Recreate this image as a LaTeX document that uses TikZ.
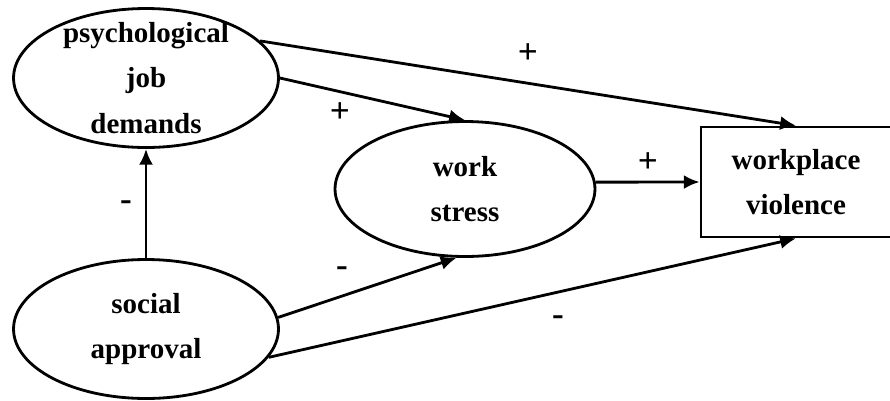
\documentclass[tikz,border=0pt]{standalone}
\usepackage{fontspec}
\setmainfont{Liberation Serif}
\usetikzlibrary{arrows.meta,shapes.geometric}

\begin{document}
\begin{tikzpicture}[x=0.02cm,y=-0.02cm,
    every node/.style={font=\fontsize{16.5}{26}\selectfont\bfseries},
    latent/.style={draw,ellipse,line width=1.6pt,align=center,
      inner xsep=0pt,inner ysep=-6mm,minimum width=5.3cm,minimum height=2.78cm},
    observed/.style={draw,rectangle,line width=1.6pt,align=center,
      minimum width=3.8cm,minimum height=2.2cm},
    path/.style={line width=1.6pt,-{Latex[length=9pt,width=8pt]}},
    sign/.style={font=\fontsize{20}{22}\selectfont\bfseries}]
      \useasboundingbox (0,0) rectangle (890,400);

      \node[latent] (psych) at (146,78) {psychological\\job\\demands};
      \node[latent] (social) at (146,329) {social\\approval};
      \node[latent,minimum width=5.2cm,minimum height=2.7cm] (stress) at (465,189)
        {work\\stress};
      \node[observed] (violence) at (796,182) {workplace\\violence};

      \draw[path] (psych.18) -- (violence.north);
      \draw[path] (psych.east) -- (stress.north);
      \draw[path] (stress.3) -- (violence.west);
      \draw[path] (social.north) -- (psych.south);
      \draw[path] (social.5) -- (stress.263);
      \draw[path] (social.-13) -- (violence.south);

      \node[sign] (s1) at (528,54) {+};
      \node[sign] (s2) at (340,113) {+};
      \node[sign] (s3) at (648,163) {+};
      \node[sign] (s4) at (126,206) {-};
      \node[sign] (s5) at (342,272) {-};
      \node[sign] (s6) at (558,321) {-};
    \end{tikzpicture}
\end{document}
